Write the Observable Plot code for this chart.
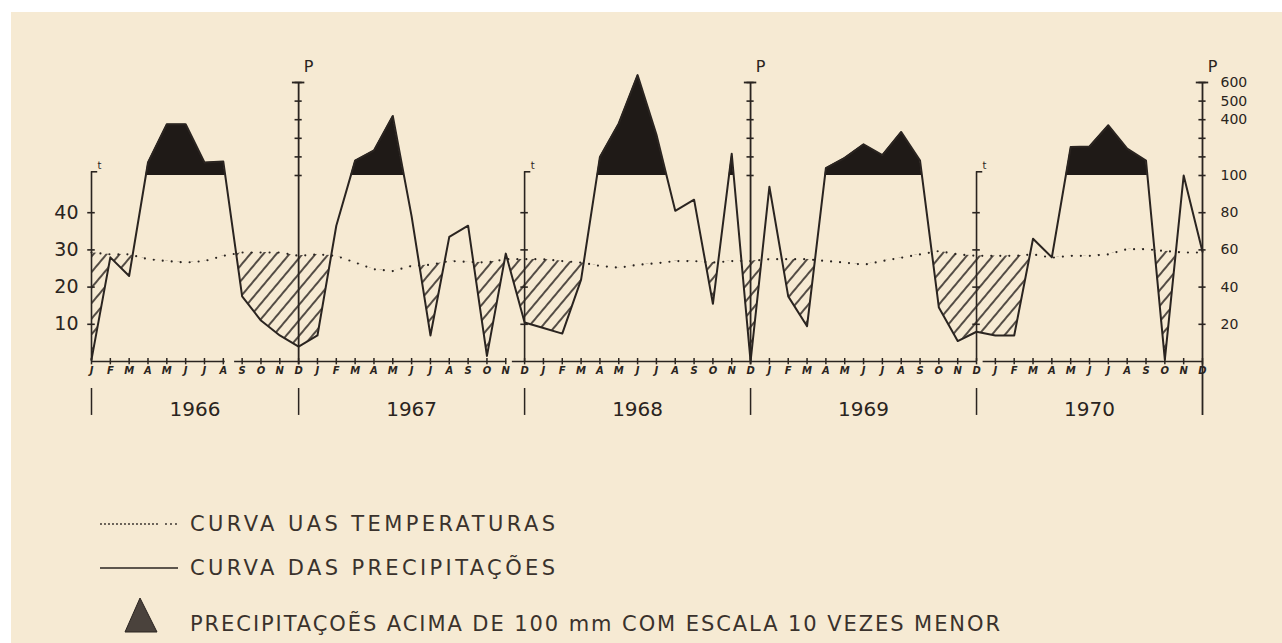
<!DOCTYPE html>
<html><head><meta charset="utf-8">
<script src="https://cdn.jsdelivr.net/npm/d3@7"></script>
<script src="https://cdn.jsdelivr.net/npm/@observablehq/plot@0.6"></script>
<style>
body{margin:0;background:#fff;width:1282px;height:643px;overflow:hidden;position:relative;font-family:"DejaVu Sans",sans-serif}
#paper{position:absolute;left:11px;top:12px;width:1271px;height:631px;background:#f6ead3}
#chart{position:absolute;left:0;top:0}
#legend{position:absolute;left:0;top:440px}
</style>
</head><body>
<div id="paper"></div>
<div id="chart"></div>
<svg id="legend" width="1282" height="203"></svg>
<script>
// ---- data ----
const months = ["J","F","M","A","M","J","J","A","S","O","N","D"];
const years = [1966, 1967, 1968, 1969, 1970];
// monthly precipitation (mm)
const precip1966 = [1, 56, 46, 170, 376, 376, 170, 175, 35, 22, 14, 8];
const precip1967 = [14, 73, 180, 235, 420, 78, 14, 67, 73, 3, 58, 21];
const precip1968 = [18, 15, 44, 200, 380, 640, 320, 81, 87, 31, 217, 0];
const precip1969 = [94, 35, 19, 140, 195, 268, 210, 334, 180, 29, 11, 16];
const precip1970 = [14, 14, 66, 56, 253, 256, 370, 244, 180, 1, 100, 59];
// monthly mean temperature (°C)
const temp1966 = [29.3, 28.8, 28.8, 27.5, 27.0, 26.6, 27.0, 28.4, 29.3, 29.3, 29.3, 28.4];
const temp1967 = [28.8, 28.4, 26.6, 24.8, 24.3, 25.7, 26.0, 27.0, 26.8, 26.6, 27.5, 27.5];
const temp1968 = [27.5, 27.0, 26.6, 25.7, 25.2, 26.0, 26.4, 27.0, 27.0, 26.6, 27.0, 27.0];
const temp1969 = [27.5, 27.5, 27.5, 27.0, 26.6, 26.0, 27.0, 27.9, 28.8, 29.7, 28.8, 28.4];
const temp1970 = [28.4, 28.4, 28.8, 27.9, 28.4, 28.4, 28.8, 30.2, 30.2, 29.7, 29.3, 29.3];
// axis ticks
const tTicks = [10, 20, 30, 40];
const pTicksUpper = [100, 200, 300, 400, 500, 600];
const pTicksLower = [20, 40, 60, 80];
const pTickLabels = [600, 500, 400, 100, 80, 60, 40, 20];
// positions (month index) of the vertical scales and year separators
const tAxes = [0, 23, 47];
const pAxes = [11, 35, 59];
const separators = [0, 11, 23, 35, 47, 59];
const baseGaps = [[7.1, 7.6], [22.05, 22.35], [47.05, 47.35]];

// ---- derived ----
const precip = [precip1966, precip1967, precip1968, precip1969, precip1970];
const temp = [temp1966, temp1967, temp1968, temp1969, temp1970];
// Gaussen scale: P = 2t up to 100 mm, above that 10 times smaller
const eff = p => p <= 100 ? p : 100 + (p - 100) / 10;
const rows = [];
years.forEach((y, yi) => months.forEach((m, mi) => {
  rows.push({i: yi * 12 + mi, m, p: precip[yi][mi], pe: eff(precip[yi][mi]), t: temp[yi][mi], te: 2 * temp[yi][mi]});
}));
const segs = [];
let s0 = 0;
for (const [a, b] of baseGaps) { segs.push({a: s0, b: a}); s0 = b; }
segs.push({a: s0, b: 59});
const yearLabels = years.map((y, k) => ({y, x: (separators[k] + separators[k + 1]) / 2}));

const ink = "#2a2420";
const font = "DejaVu Sans";
const cross = (A, B) => A.flatMap(a => B.map(b => ({a, b})));

const chart = Plot.plot({
  width: 1282, height: 440,
  marginLeft: 91, marginRight: 80, marginTop: 82, marginBottom: 79,
  x: {domain: [0, 59], axis: null},
  y: {domain: [0, 150], axis: null},
  style: {background: "transparent", overflow: "visible"},
  marks: [
    Plot.areaY(rows, {x: "i", y1: 0, y2: "te", fill: "none", ariaDescription: "clipT"}),
    Plot.areaY(rows, {x: "i", y1: 100, y2: 170, fill: "none", ariaDescription: "clip100"}),
    Plot.areaY(rows, {x: "i", y1: "pe", y2: "te", fill: "url(#hatch)", ariaDescription: "hatch"}),
    Plot.areaY(rows, {x: "i", y1: 100, y2: "pe", fill: "#1f1a17", ariaDescription: "black"}),
    Plot.line(rows, {x: "i", y: "te", stroke: ink, strokeWidth: 2.2, strokeDasharray: "0 9", strokeLinecap: "round"}),
    Plot.line(rows, {x: "i", y: "pe", stroke: ink, strokeWidth: 2}),
    // baseline and month ticks
    Plot.ruleY(segs, {y: 0, x1: "a", x2: "b", stroke: ink, strokeWidth: 1.7}),
    Plot.ruleX(rows, {x: "i", y1: -1.8, y2: 1.6, stroke: ink, strokeWidth: 1.5}),
    Plot.text(rows, {x: "i", y: 0, text: "m", dy: 9, fontSize: 10, fontWeight: "bold", fontStyle: "italic", fontFamily: font, fill: ink}),
    // year separators and labels
    Plot.ruleX(separators.slice(0, 5), {x: d => d, y1: -14.5, y2: -29, stroke: ink, strokeWidth: 1.5}),
    Plot.text(yearLabels, {x: "x", y: 0, text: d => String(d.y), dy: 48, fontSize: 20, fontFamily: font, fill: ink, letterSpacing: 1.5}),
    // temperature scales
    Plot.ruleX(tAxes, {x: d => d, y1: 0, y2: 102, stroke: ink, strokeWidth: 1.6}),
    Plot.ruleY(tAxes, {y: 102, x1: d => d, x2: d => d + 0.33, stroke: ink, strokeWidth: 1.6}),
    Plot.ruleY(cross(tAxes, tTicks), {y: d => 2 * d.b, x1: d => d.a - 0.2, x2: d => d.a + 0.2, stroke: ink, strokeWidth: 1.6}),
    Plot.text(tAxes, {x: d => d, y: 102, text: () => "t", dx: 8, dy: -6, fontSize: 10, fontFamily: font, fill: ink}),
    Plot.text(tTicks, {x: 0, y: d => 2 * d, text: d => String(d), dx: -13, textAnchor: "end", fontSize: 19, fontFamily: font, fill: ink}),
    // precipitation scales
    Plot.ruleX(pAxes.slice(0, 2), {x: d => d, y1: -1.8, y2: 150, stroke: ink, strokeWidth: 1.8}),
    Plot.ruleX([59], {x: d => d, y1: -29, y2: 150, stroke: ink, strokeWidth: 1.8}),
    Plot.ruleY(cross(pAxes, pTicksUpper), {y: d => eff(d.b), x1: d => d.a - 0.19, x2: d => d.a + 0.19, stroke: ink, strokeWidth: 1.6}),
    Plot.ruleY(pAxes, {y: 150, x1: d => d - 0.33, x2: d => d + 0.33, stroke: ink, strokeWidth: 1.8}),
    Plot.ruleY(pTicksLower, {y: d => d, x1: 59 - 0.19, x2: 59 + 0.19, stroke: ink, strokeWidth: 1.6}),
    Plot.text(pAxes, {x: d => d, y: 150, text: () => "P", dx: 10, dy: -16, fontSize: 16, fontFamily: font, fill: ink}),
    Plot.text(pTickLabels, {x: 59, y: d => eff(d), text: d => String(d), dx: 18, textAnchor: "start", fontSize: 14, fontFamily: font, fill: ink})
  ]
});
document.getElementById("chart").appendChild(chart);

// hatch pattern and clip regions
const NS = "http://www.w3.org/2000/svg";
const defs = document.createElementNS(NS, "defs");
defs.innerHTML = `<pattern id="hatch" patternUnits="userSpaceOnUse" width="10" height="10" patternTransform="rotate(40)">
  <line x1="5" y1="-1" x2="5" y2="11" stroke="${ink}" stroke-width="1.6"/></pattern>`;
function findGroup(label) {
  return chart.querySelector(`g[aria-description="${label}"]`);
}
function toClip(label, id) {
  const g = findGroup(label);
  if (!g) return;
  const src = g.querySelector("path");
  const cp = document.createElementNS(NS, "clipPath");
  cp.setAttribute("id", id);
  const p = document.createElementNS(NS, "path");
  p.setAttribute("d", src.getAttribute("d"));
  if (g.getAttribute("transform")) p.setAttribute("transform", g.getAttribute("transform"));
  cp.appendChild(p);
  defs.appendChild(cp);
  g.remove();
}
toClip("clipT", "clipT");
toClip("clip100", "clip100");
chart.insertBefore(defs, chart.firstChild);
const gh = findGroup("hatch"); if (gh) gh.setAttribute("clip-path", "url(#clipT)");
const gb = findGroup("black"); if (gb) gb.setAttribute("clip-path", "url(#clip100)");

// legend
const lg = document.getElementById("legend");
lg.innerHTML = `
<line x1="101" y1="84" x2="160" y2="84" stroke="${ink}" stroke-width="1.8" stroke-dasharray="0 4" stroke-linecap="round"/>
<line x1="166" y1="84" x2="180" y2="84" stroke="${ink}" stroke-width="1.8" stroke-dasharray="0 5" stroke-linecap="round"/>
<text x="190" y="91" font-family="${font}" font-size="21" fill="#3a322c" textLength="365" lengthAdjust="spacing">CURVA UAS TEMPERATURAS</text>
<line x1="100" y1="128" x2="178" y2="128" stroke="${ink}" stroke-width="1.6"/>
<text x="190" y="135" font-family="${font}" font-size="21" fill="#3a322c" textLength="365" lengthAdjust="spacing">CURVA DAS PRECIPITAÇÕES</text>
<polygon points="140,158 125,192 157,192" fill="#4a423c" stroke="${ink}" stroke-width="1"/>
<text x="190" y="191" font-family="${font}" font-size="21" fill="#3a322c" textLength="810" lengthAdjust="spacing">PRECIPITAÇOẼS ACIMA DE 100 mm COM ESCALA 10 VEZES MENOR</text>`;
</script>
</body></html>
